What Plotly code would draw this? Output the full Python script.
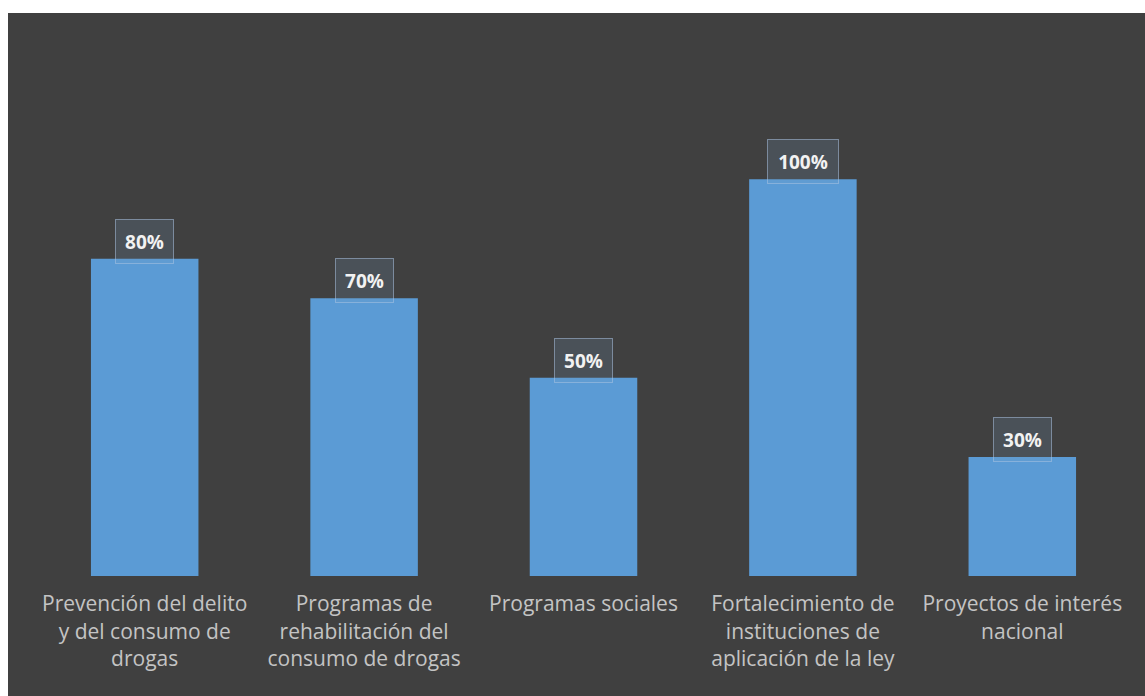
import plotly.graph_objects as go

categories = [
    "Prevención del delito<br>y del consumo de<br>drogas",
    "Programas de<br>rehabilitación del<br>consumo de drogas",
    "Programas sociales",
    "Fortalecimiento de<br>instituciones de<br>aplicación de la ley",
    "Proyectos de interés<br>nacional",
]
values = [0.80, 0.70, 0.50, 1.00, 0.30]
labels = ["80%", "70%", "50%", "100%", "30%"]

W, H = 1145, 696
ml, mr, mt, mb = 35, 13, 100, 120
pw, ph = W - ml - mr, H - mt - mb

fig = go.Figure()
fig.add_trace(go.Bar(
    x=list(range(len(categories))), y=values,
    marker=dict(color="#5B9BD5", line=dict(width=0)),
    width=0.49,
))

for i, (v, t) in enumerate(zip(values, labels)):
    fig.add_annotation(
        x=i, y=v, text=f"<b>{t}</b>", showarrow=False,
        yanchor="bottom", yshift=-5,
        font=dict(family="Open Sans", size=19, color="#F2F2F2"),
        bgcolor="rgba(120,160,200,0.18)",
        bordercolor="rgba(170,195,225,0.55)", borderwidth=1,
        width=55 if len(t) < 4 else 68, height=41,
    )

# dark background panel (white strips at top and left)
fig.add_shape(
    type="rect", xref="paper", yref="paper", layer="below",
    x0=(8 - ml) / pw, x1=(W - ml) / pw,
    y0=-(mb) / ph, y1=(H - 13 - mb) / ph,
    fillcolor="#404040", line=dict(width=0),
)

fig.update_layout(
    width=W, height=H,
    margin=dict(l=ml, r=mr, t=mt, b=mb),
    paper_bgcolor="white", plot_bgcolor="rgba(0,0,0,0)",
    showlegend=False, bargap=0.51,
    xaxis=dict(
        tickmode="array", tickvals=list(range(len(categories))), ticktext=categories,
        range=[-0.5, 4.5], showgrid=False, zeroline=False, showline=False,
        ticks="outside", ticklen=9, tickcolor="rgba(0,0,0,0)",
        tickfont=dict(family="Open Sans", size=21, color="#C4C4C4"),
    ),
    yaxis=dict(range=[0, 1.2], visible=False),
)

fig.write_html("out.html")
